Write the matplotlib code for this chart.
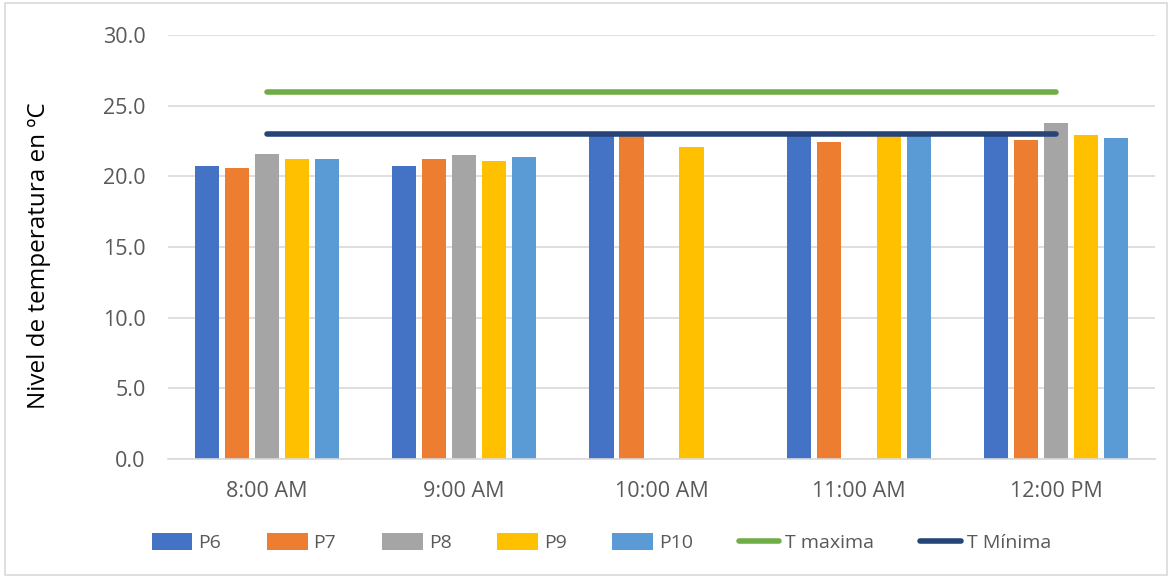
import numpy as np
import matplotlib
matplotlib.use("Agg")
import matplotlib.pyplot as plt
from matplotlib import font_manager as fm

categories = ["8:00 AM", "9:00 AM", "10:00 AM", "11:00 AM", "12:00 PM"]
P6 = [20.7, 20.7, 23.0, 23.0, 23.0]
P7 = [20.6, 21.2, 23.0, 22.4, 22.6]
P8 = [21.6, 21.5, np.nan, np.nan, 23.8]
P9 = [21.2, 21.1, 22.1, 23.0, 22.9]
P10 = [21.2, 21.4, np.nan, 23.0, 22.7]
T_maxima = [26.0, 26.0, 26.0, 26.0, 26.0]
T_minima = [23.0, 23.0, 23.0, 23.0, 23.0]

series = [("P6", P6, "#4472C4"), ("P7", P7, "#ED7D31"), ("P8", P8, "#A5A5A5"),
          ("P9", P9, "#FFC000"), ("P10", P10, "#5B9BD5")]

names = {f.name for f in fm.fontManager.ttflist}
main_font = "Open Sans" if "Open Sans" in names else "DejaVu Sans"
leg_font = main_font

fig = plt.figure(figsize=(11.72, 5.78), dpi=100)
ax = fig.add_axes([0.1433, 0.206, 0.8422, 0.7334])

x = np.arange(len(categories))
w = 0.122
step = 0.152
handles = []
for i, (name, vals, col) in enumerate(series):
    h = ax.bar(x + (i - 2) * step, vals, width=w, color=col, label=name, zorder=2)
    handles.append(h)

l1, = ax.plot(x, T_maxima, color="#70AD47", lw=4, solid_capstyle="round", label="T maxima", zorder=3)
l2, = ax.plot(x, T_minima, color="#264478", lw=4, solid_capstyle="round", label="T Mínima", zorder=3)
handles += [l1, l2]

ax.set_xlim(-0.5, len(categories) - 0.5)
ax.set_ylim(0, 30)
ax.set_yticks(np.arange(0, 30.1, 5))
ax.set_yticklabels([f"{v:.1f}" for v in np.arange(0, 30.1, 5)])
ax.set_xticks(x)
ax.set_xticklabels(categories)
ax.grid(axis="y", color="#D9D9D9", lw=1.2, zorder=0)
ax.set_axisbelow(True)
for s in ["top", "right", "left"]:
    ax.spines[s].set_visible(False)
ax.spines["bottom"].set_color("#D9D9D9")
ax.spines["bottom"].set_linewidth(1.2)
ax.tick_params(axis="both", length=0, labelsize=15.5, labelcolor="#595959")
for lab in ax.get_xticklabels() + ax.get_yticklabels():
    lab.set_fontfamily(main_font)
ax.tick_params(axis="y", pad=16)
ax.tick_params(axis="x", pad=16)
ax.set_ylabel("Nivel de temperatura en ºC", fontsize=17.5, family=main_font, color="black")
ax.yaxis.set_label_coords(-0.118, 0.48)

leg = fig.legend(handles=handles, labels=[h.get_label() for h in handles],
                 loc="center", bbox_to_anchor=(0.513, 0.061), ncol=7, frameon=False,
                 prop={"family": leg_font, "size": 14}, handlelength=2.1, handleheight=1.0,
                 columnspacing=2.35, handletextpad=0.3)
for t in leg.get_texts():
    t.set_color("#595959")

fig.patches.append(plt.Rectangle((0.004, 0.006), 0.992, 0.988, transform=fig.transFigure,
                                 fill=False, edgecolor="#D9D9D9", lw=1.2))

fig.savefig("out.png", dpi=100)
